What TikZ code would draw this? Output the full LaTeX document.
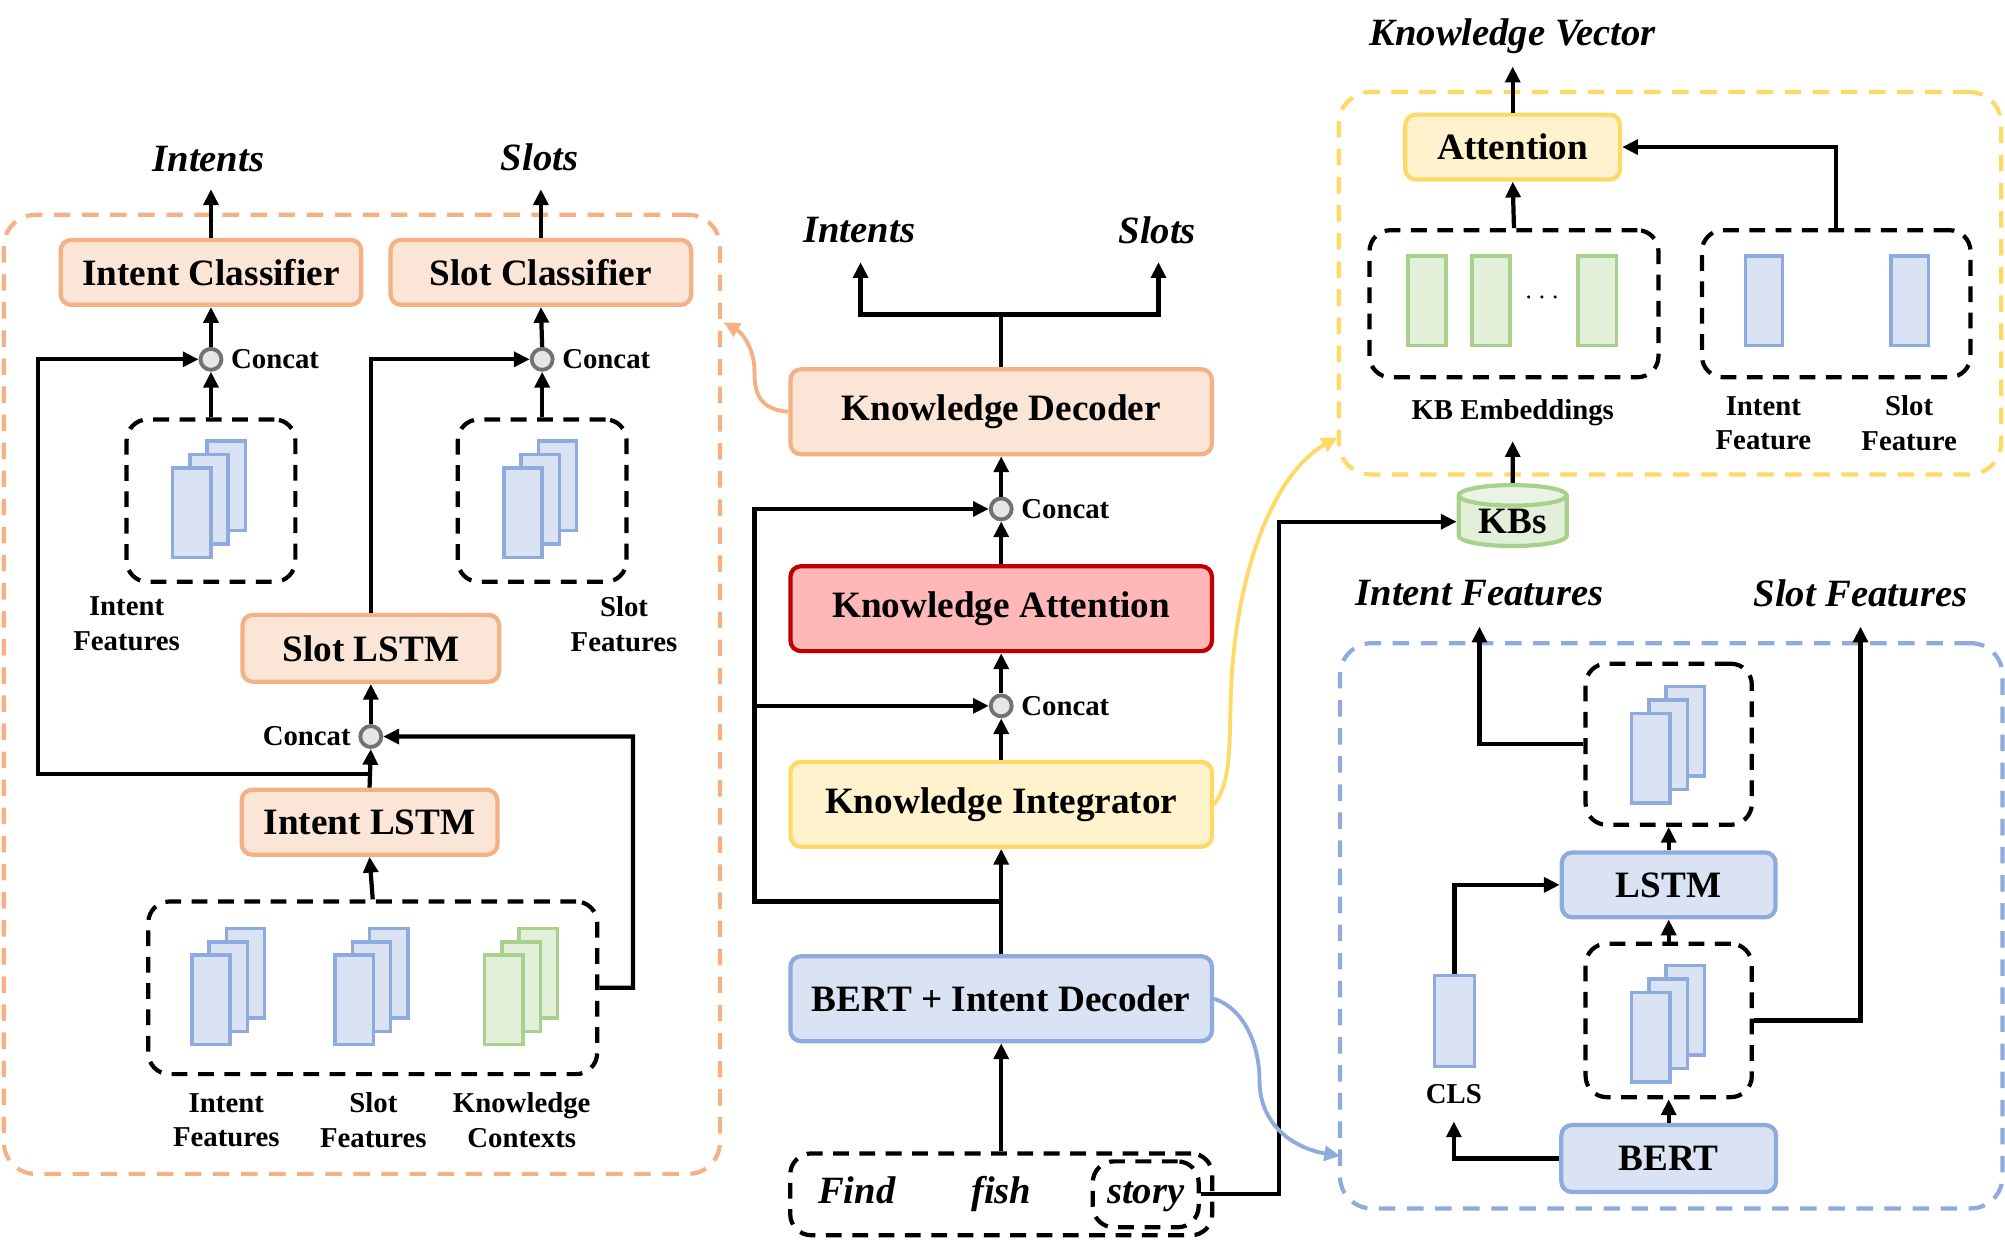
\documentclass[tikz,border=0pt]{standalone}
\usepackage{fontspec}
\setmainfont{Liberation Serif}
\usetikzlibrary{arrows.meta,positioning,fit,shapes.geometric}

\definecolor{orgline}{HTML}{F4B183}
\definecolor{orgfill}{HTML}{FBE5D6}
\definecolor{bluline}{HTML}{8FAADC}
\definecolor{blufill}{HTML}{DAE3F3}
\definecolor{grnline}{HTML}{A9D18E}
\definecolor{grnfill}{HTML}{E2F0D9}
\definecolor{ylwline}{HTML}{FFD966}
\definecolor{ylwfill}{HTML}{FFF2CC}
\definecolor{redline}{HTML}{C00000}
\definecolor{redfill}{HTML}{FFB7B7}
\definecolor{catline}{HTML}{767171}
\definecolor{catfill}{HTML}{E7E6E6}

\tikzset{
  box/.style={draw, rounded corners=3pt, line width=1.2pt, inner sep=0pt,
    font=\bfseries\fontsize{10.6}{12}\selectfont},
  obox/.style={box, draw=orgline, fill=orgfill},
  bbox/.style={box, draw=bluline, fill=blufill},
  ybox/.style={box, draw=ylwline, fill=ylwfill},
  rbox/.style={box, draw=redline, fill=redfill},
  dbox/.style={draw, dash pattern=on 4.5pt off 3pt, rounded corners=6pt, line width=1.2pt, inner sep=0pt},
  cbox/.style={draw, dash pattern=on 4.7pt off 3.3pt, rounded corners=9pt, line width=1.2pt, inner sep=0pt},
  catnode/.style={circle, draw=catline, fill=catfill, line width=1.1pt, minimum size=0.21cm, inner sep=0pt},
  vec/.style={line width=1pt},
  ln/.style={line width=1.2pt},
  arr/.style={ln, -{Triangle[length=4.5pt,width=4.2pt]}},
  cur/.style={line width=1.1pt, -{Triangle[length=4.5pt,width=4.2pt]}},
  small/.style={font=\bfseries\fontsize{8.2}{9.9}\selectfont, align=center, inner sep=0pt},
  ital/.style={font=\bfseries\itshape\fontsize{11}{13}\selectfont, inner sep=0pt},
  word/.style={ital, text height=7.6pt, text depth=2.6pt},
}

\begin{document}
\begin{tikzpicture}[x=0.0128cm,y=-0.0128cm]
\useasboundingbox (0,0) rectangle (1568,970);

% coloured containers
\node[cbox, draw=orgline, fit={(3,168) (563,918)}] (lpanel) {};
\node[cbox, draw=ylwline, fit={(1047,72) (1565,371)}] (kpanel) {};
\node[cbox, draw=bluline, fit={(1048,503) (1566,945)}] (bpanel) {};

% left: knowledge decoder detail
\node[ital] (intents1) at (163,124) {Intents};
\node[ital] (slots1) at (422,123) {Slots};
\coordinate (o1) at (165,148);
\coordinate (o2) at (423,148);
\node[obox, minimum width=3.01cm, minimum height=0.65cm] (intcls) at (165,213) {Intent Classifier};
\node[obox, minimum width=3.01cm, minimum height=0.65cm] (slotcls) at (423,213) {Slot Classifier};
\node[catnode] (c1) at (165,281) {};
\node[catnode] (c2) at (424,281) {};
\node[small, right=0.07cm of c1] (c1t) {Concat};
\node[small, right=0.07cm of c2] (c2t) {Concat};
\node[dbox, fit={(99,328) (231,455)}] (ifbox) {};
\node[dbox, fit={(358,328) (490,455)}] (sfbox) {};
\node[small] (ifl) at (99,488) {Intent\\Features};
\node[small] (sfl) at (488,488) {Slot\\Features};
\node[obox, minimum width=2.57cm, minimum height=0.67cm] (slotlstm) at (290,507) {Slot LSTM};
\node[catnode] (c3) at (290,576) {};
\node[small, left=0.07cm of c3] (c3t) {Concat};
\node[obox, minimum width=2.56cm, minimum height=0.65cm] (intlstm) at (289,643) {Intent LSTM};
\node[dbox, fit={(116,705) (467,840)}] (featbox) {};
\node[small] (ifl2) at (177,876) {Intent\\Features};
\node[small] (sfl2) at (292,876) {Slot\\Features};
\node[small] (kcl) at (408,876) {Knowledge\\Contexts};

\coordinate (j1) at (290,605);
\coordinate (ll) at (30,605);
\coordinate (fr) at (495,772.5);
\draw[arr] (intcls.north) -- (o1);
\draw[arr] (slotcls.north) -- (o2);
\draw[arr] (c1.north) -- (intcls.south);
\draw[arr] (c2.north) -- (slotcls.south);
\draw[arr] (ifbox.north) -- (c1.south);
\draw[arr] (sfbox.north) -- (c2.south);
\draw[arr] (j1) -- (ll) |- (c1.west);
\draw[arr] (slotlstm.north) |- (c2.west);
\draw[arr] (c3.north) -- (slotlstm.south);
\draw[arr] (intlstm.north) -- (c3.south);
\draw[arr] (featbox.north) -- (intlstm.south);
\draw[arr] (featbox.east) -- (fr) |- (c3.east);

% feature stacks
\foreach \fx/\fy/\lc/\fc in {135/436/bluline/blufill, 394/436/bluline/blufill,
    150/817/bluline/blufill, 262/817/bluline/blufill, 379/817/grnline/grnfill,
    1276/628/bluline/blufill, 1276/846/bluline/blufill}
  \foreach \i in {2,1,0}
    \draw[vec, draw=\lc, fill=\fc] (\fx+13.5*\i, \fy-10.5*\i) rectangle ++(30,-70);

% middle column
\node[ital] (intents2) at (672,180) {Intents};
\node[ital] (slots2) at (905,180) {Slots};
\coordinate (o3) at (673,205);
\coordinate (o4) at (906,205);
\coordinate (split) at (783,246);
\node[obox, minimum width=4.22cm, minimum height=0.85cm] (kdec) at (783,322) {Knowledge Decoder};
\node[catnode] (c4) at (783,398) {};
\node[small, right=0.07cm of c4] (c4t) {Concat};
\node[rbox, minimum width=4.22cm, minimum height=0.85cm] (katt) at (783,476) {Knowledge Attention};
\node[catnode] (c5) at (783,552) {};
\node[small, right=0.07cm of c5] (c5t) {Concat};
\node[ybox, minimum width=4.22cm, minimum height=0.85cm] (kint) at (783,629) {Knowledge Integrator};
\node[bbox, minimum width=4.22cm, minimum height=0.85cm] (bert) at (783,781) {BERT + Intent Decoder};
\node[dbox, fit={(618,902) (948,966)}] (input) {};
\node[word] (find) at (670,934) {Find};
\node[word] (fish) at (783,934) {fish};
\node[dbox, word, minimum width=1.06cm, minimum height=0.66cm] (story) at (896,934) {story};

\coordinate (j2) at (783,705);
\coordinate (ml) at (590,705);
\coordinate (kbturn) at (1000,700);
\draw[ln] (kdec.north) -- (split);
\draw[arr] (split) -| (o3);
\draw[arr] (split) -| (o4);
\draw[arr] (c4.north) -- (kdec.south);
\draw[arr] (katt.north) -- (c4.south);
\draw[arr] (c5.north) -- (katt.south);
\draw[arr] (kint.north) -- (c5.south);
\draw[arr] (bert.north) -- (kint.south);
\draw[arr] (j2) -- (ml) |- (c4.west);
\draw[arr] (ml |- c5) -- (c5.west);
\draw[arr] (input.north) -- (bert.south);

% right top: knowledge integrator detail
\node[ital] (kvec) at (1183,28) {Knowledge Vector};
\coordinate (o5) at (1183,52);
\node[ybox, minimum width=2.15cm, minimum height=0.65cm] (attn) at (1183,115) {Attention};
\node[dbox, fit={(1071,180) (1297,295)}] (kbemb) {};
\node[dbox, fit={(1331,180) (1541,295)}] (fpair) {};
\foreach \x in {1101,1151,1234}
  \draw[vec, draw=grnline, fill=grnfill] (\x,200) rectangle ++(30,70);
\foreach \x in {1365,1479}
  \draw[vec, draw=bluline, fill=blufill] (\x,200) rectangle ++(29,70);
\node[small] (dots) at (1206,233) {$\cdots$};
\node[small] (kbl) at (1183,323) {KB Embeddings};
\node[small] (ifl3) at (1379,331) {Intent\\Feature};
\node[small] (sfl3) at (1493,331) {Slot\\Feature};
\node[cylinder, shape border rotate=90, aspect=0.3, draw=grnline, line width=1.2pt,
  cylinder uses custom fill, cylinder body fill=grnfill, cylinder end fill=grnfill!70,
  minimum width=1.08cm, minimum height=0.61cm, inner sep=0pt,
  font=\bfseries\fontsize{10.6}{12}\selectfont] (kbs) at (1183,408) {KBs};
\coordinate (fp) at (1436,180);
\coordinate (o6) at (1183,345);
\draw[arr] (attn.north) -- (o5);
\draw[arr] (kbemb.north) -- (attn.south);
\draw[arr] (fp) |- (attn.east);
\draw[arr] (kbs.north) -- (o6);
\draw[arr] (story.east) -| (kbturn) |- (kbs.west);

% right bottom: intent decoder detail
\node[ital] (ifl4) at (1157,464) {Intent Features};
\node[ital] (sfl4) at (1455,464) {Slot Features};
\coordinate (o7) at (1157,490);
\coordinate (o8) at (1455,490);
\coordinate (o9) at (1137,877);
\node[dbox, fit={(1240,519) (1370,645)}] (upbox) {};
\node[dbox, fit={(1240,738) (1370,858)}] (lowbox) {};
\node[bbox, minimum width=2.14cm, minimum height=0.65cm] (lstm) at (1305,692) {LSTM};
\node[bbox, minimum width=2.15cm, minimum height=0.67cm] (rbert) at (1305,906) {BERT};
\node[draw=bluline, fill=blufill, vec, minimum width=0.4cm, minimum height=0.91cm, inner sep=0pt] (cls) at (1137.5,798.5) {};
\node[small] (clsl) at (1137,856) {CLS};
\draw[arr] (lstm.north) -- (upbox.south);
\draw[arr] (lowbox.north) -- (lstm.south);
\draw[arr] (rbert.north) -- (lowbox.south);
\draw[arr] (upbox.west) -| (o7);
\draw[arr] (lowbox.east) -| (o8);
\draw[arr] (cls.north) |- (lstm.west);
\draw[arr] (rbert.west) -| (o9);

% curved links
\coordinate (oend) at (566,252);
\coordinate (yend) at (1046,342);
\coordinate (bend) at (1048,904);
\draw[cur, orgline] (kdec.west) .. controls (592,320) and (590,305) .. (590,290)
  .. controls (590,272) and (580,260) .. (oend);
\draw[cur, ylwline] (kint.east) .. controls (968,605) and (958,560) .. (966,500)
  .. controls (976,420) and (1005,365) .. (yend);
\draw[cur, bluline] (bert.east) .. controls (975,790) and (985,820) .. (985,845)
  .. controls (985,880) and (1012,898) .. (bend);
\end{tikzpicture}
\end{document}
